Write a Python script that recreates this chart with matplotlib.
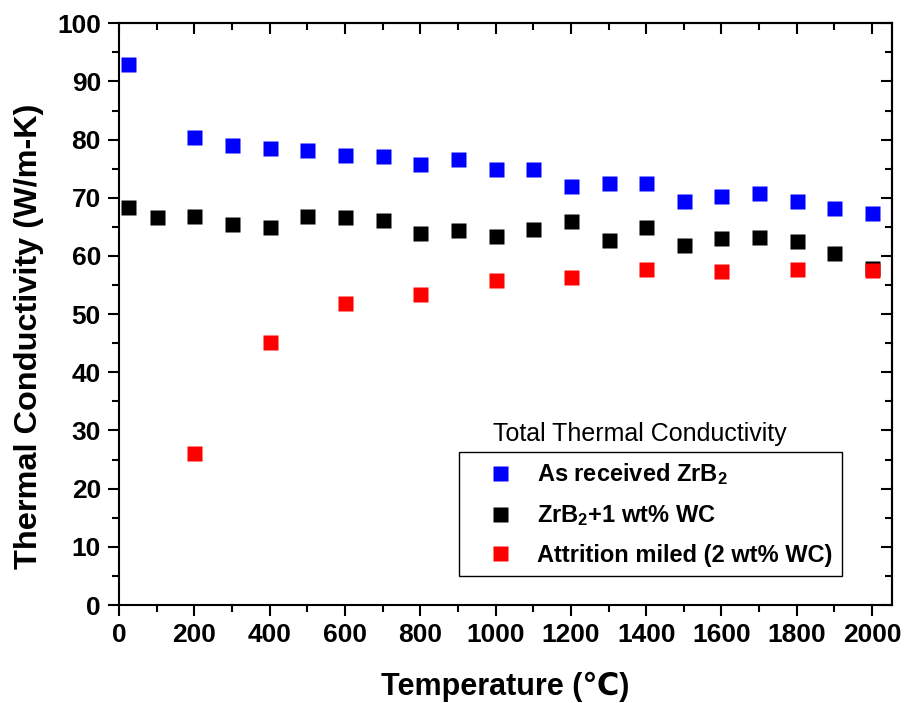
import numpy as np
import matplotlib
matplotlib.use("Agg")
import matplotlib.pyplot as plt
from matplotlib.ticker import MultipleLocator

plt.rcParams['font.family'] = ['Liberation Sans', 'DejaVu Sans']
plt.rcParams['mathtext.default'] = 'regular'

# measured thermal conductivity, W/m-K
t_as = [25, 200, 300, 400, 500, 600, 700, 800, 900, 1000,
        1100, 1200, 1300, 1400, 1500, 1600, 1700, 1800, 1900, 2000]
k_as = [93.0, 80.4, 79.1, 78.6, 78.2, 77.3, 77.2, 75.8, 76.6, 74.9,
        74.9, 72.0, 72.6, 72.5, 69.4, 70.3, 70.8, 69.4, 68.3, 67.3]

t_wc1 = [25, 100, 200, 300, 400, 500, 600, 700, 800, 900, 1000,
         1100, 1200, 1300, 1400, 1500, 1600, 1700, 1800, 1900, 2000]
k_wc1 = [68.4, 66.7, 66.9, 65.5, 64.9, 66.9, 66.7, 66.2, 64.0, 64.5, 63.4,
         64.6, 66.0, 62.8, 65.0, 61.9, 63.1, 63.2, 62.6, 60.5, 58.0]

t_att = [200, 400, 600, 800, 1000, 1200, 1400, 1600, 1800, 2000]
k_att = [26.1, 45.2, 51.9, 53.4, 55.8, 56.4, 57.8, 57.5, 57.8, 57.6]

labels = ["As received ZrB$_2$", "ZrB$_2$+1 wt% WC", "Attrition miled (2 wt% WC)"]

fig = plt.figure(figsize=(9.05, 7.03), dpi=100)
ax = fig.add_axes([0.1315, 0.1394, 0.8538, 0.8275])

ms = 10.8
ax.plot(t_as, k_as, 's', color='#0000ff', ms=ms, mec='none', label=labels[0])
ax.plot(t_wc1, k_wc1, 's', color='black', ms=ms, mec='none', label=labels[1])
ax.plot(t_att, k_att, 's', color='#ff0000', ms=ms, mec='none', label=labels[2])

ax.set_xlim(0, 2052)
ax.set_ylim(0, 100)
ax.xaxis.set_major_locator(MultipleLocator(200))
ax.xaxis.set_minor_locator(MultipleLocator(100))
ax.yaxis.set_major_locator(MultipleLocator(10))
ax.yaxis.set_minor_locator(MultipleLocator(5))

for sp in ax.spines.values():
    sp.set_linewidth(1.5)

ax.tick_params(which='both', direction='out', width=1.5, top=False, right=False)
ax.tick_params(which='major', length=8, pad=5, labelsize=19)
ax.tick_params(which='minor', length=5)
for lab in ax.get_xticklabels() + ax.get_yticklabels():
    lab.set_fontweight('bold')

# inward ticks on the top and right frame
top = ax.secondary_xaxis('top')
top.xaxis.set_major_locator(MultipleLocator(200))
top.xaxis.set_minor_locator(MultipleLocator(100))
top.tick_params(which='both', direction='in', width=1.5, labeltop=False)
top.tick_params(which='major', length=8)
top.tick_params(which='minor', length=5)
top.spines['top'].set_linewidth(1.5)

right = ax.secondary_yaxis('right')
right.yaxis.set_major_locator(MultipleLocator(10))
right.yaxis.set_minor_locator(MultipleLocator(5))
right.tick_params(which='both', direction='in', width=1.5, labelright=False)
right.tick_params(which='major', length=8)
right.tick_params(which='minor', length=5)
right.spines['right'].set_linewidth(1.5)

ax.set_xlabel("Temperature (\u2103)", fontsize=22, fontweight='bold')
ax.set_ylabel("Thermal Conductivity (W/m-K)", fontsize=23.4, fontweight='bold')
ax.xaxis.set_label_coords(0.5, -0.115)
ax.yaxis.set_label_coords(-0.097, 0.462)

leg = ax.legend(loc='upper left', bbox_to_anchor=(0.44, 0.263),
                borderaxespad=0,
                prop={'size': 17, 'weight': 'bold'}, frameon=True,
                fancybox=False, edgecolor='black', framealpha=1,
                borderpad=0.4, handlelength=2.7, handletextpad=0.2,
                labelspacing=0.665, numpoints=1)
leg.get_frame().set_linewidth(1.0)

ax.text(0.484, 0.294, "Total Thermal Conductivity", transform=ax.transAxes,
        fontsize=18, ha='left', va='center')

fig.savefig("out.png", dpi=100)
